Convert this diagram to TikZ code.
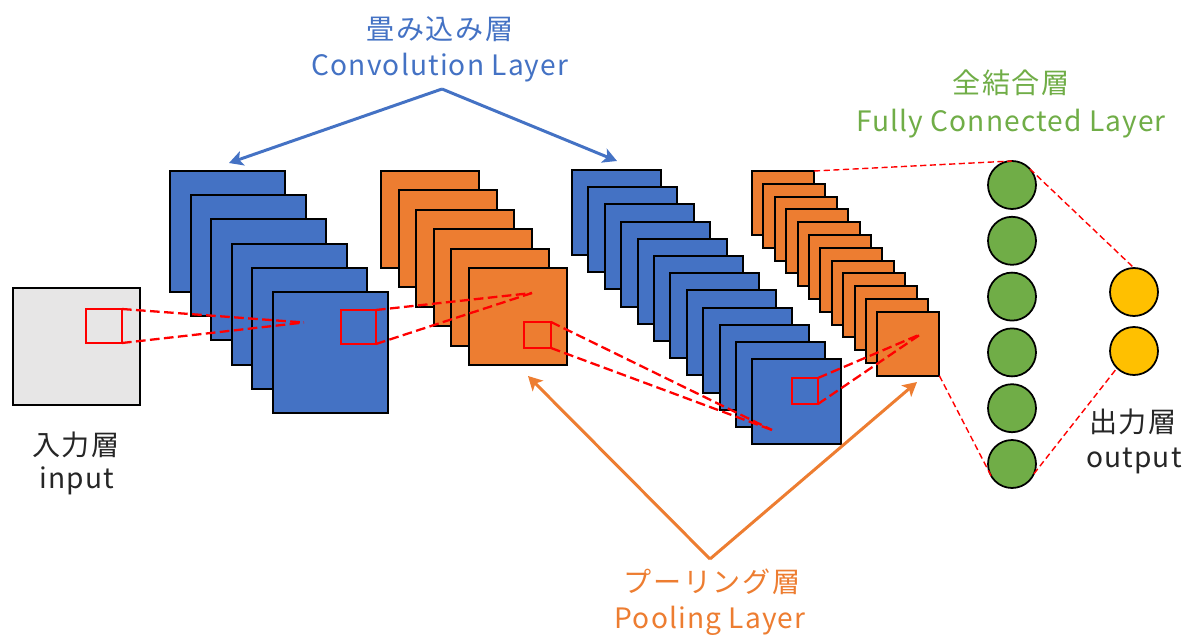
\documentclass[tikz,border=0pt]{standalone}
\usepackage{fontspec}
\setmainfont{Noto Sans CJK JP}
\usetikzlibrary{arrows.meta}

\definecolor{convblue}{HTML}{4472C4}
\definecolor{poolorange}{HTML}{ED7D31}
\definecolor{fcgreen}{HTML}{70AD47}
\definecolor{outgold}{HTML}{FFC000}
\definecolor{inputgray}{HTML}{E7E6E6}
\definecolor{labelgray}{HTML}{262626}

\begin{document}
\begin{tikzpicture}[x=0.02cm,y=-0.02cm,
  fmap/.style={draw=black, line width=1.1pt, inner sep=0pt, outer sep=0pt, anchor=north west},
  field/.style={draw=red, line width=1.1pt, inner sep=0pt, outer sep=0pt, anchor=north west},
  proj/.style={draw=red, line width=1.3pt, dash pattern=on 5.5pt off 2.5pt},
  fclink/.style={draw=red, line width=0.8pt, dash pattern=on 3.5pt off 2pt},
  neuron/.style={circle, draw=black, line width=1pt, minimum size=0.96cm, inner sep=0pt, outer sep=0pt},
  jp/.style={font=\fontsize{16pt}{19pt}\selectfont\addfontfeatures{LetterSpace=6}, inner sep=0pt, anchor=center},
  en/.style={font=\fontsize{16pt}{19pt}\selectfont\addfontfeatures{LetterSpace=4}, inner sep=0pt, anchor=base},
  pointer/.style={line width=1.7pt, -{Stealth[length=8pt, width=8.5pt, inset=2pt]}}
]
\useasboundingbox (0,0) rectangle (1184,635);

% input image
\node[fmap, fill=inputgray, minimum width=2.54cm, minimum height=2.34cm] (inimg) at (13,288) {};

% first convolution stack
\foreach \i in {0,...,5}
  \node[fmap, fill=convblue, minimum width=2.30cm, minimum height=2.42cm] (convA-\i) at ({170+20.6*\i},{171+24.2*\i}) {};

% first pooling stack
\foreach \i in {0,...,5}
  \node[fmap, fill=poolorange, minimum width=1.96cm, minimum height=1.94cm] (poolA-\i) at ({381+17.6*\i},{171+19.4*\i}) {};

% second convolution stack
\foreach \i in {0,...,11}
  \node[fmap, fill=convblue, minimum width=1.78cm, minimum height=1.70cm] (convB-\i) at ({572+16.4*\i},{170+17.2*\i}) {};

% second pooling stack
\foreach \i in {0,...,11}
  \node[fmap, fill=poolorange, minimum width=1.24cm, minimum height=1.28cm] (poolB-\i) at ({752+11.4*\i},{171+12.8*\i}) {};

% receptive fields
\node[field, minimum width=0.72cm, minimum height=0.68cm] (rfIn) at (86,309) {};
\node[field, minimum width=0.70cm, minimum height=0.68cm] (rfA) at (341,310) {};
\node[field, minimum width=0.54cm, minimum height=0.52cm] (rfB) at (524,322) {};
\node[field, minimum width=0.52cm, minimum height=0.52cm] (rfC) at (792,378) {};

% projection targets
\coordinate (pA) at (304,322.5);
\coordinate (pB) at (532,293);
\coordinate (pC) at (772,430);
\coordinate (pD) at (921,334);

\draw[proj] (rfIn.north east) -- (pA);
\draw[proj] (rfIn.south east) -- (pA);
\draw[proj] (rfA.north east) -- (pB);
\draw[proj] (rfA.south east) -- (pB);
\draw[proj] (rfB.north east) -- (pC);
\draw[proj] (rfB.south east) -- (pC);
\draw[proj] (rfC.north east) -- (pD);
\draw[proj] (rfC.south east) -- (pD);

% fully connected and output neurons
\foreach \i in {1,...,6}
  \node[neuron, fill=fcgreen] (fc-\i) at (1012,{185+55.8*(\i-1)}) {};
\node[neuron, fill=outgold] (out-1) at (1134,292) {};
\node[neuron, fill=outgold] (out-2) at (1134,351) {};

\draw[fclink] (poolB-0.north east) -- (fc-1.north);
\draw[fclink] (poolB-11.south east) -- (fc-6.209);
\draw[fclink] (fc-1.42) -- (out-1.north);
\draw[fclink] (fc-6.-24) -- (out-2.225);

% layer pointers
\coordinate (convTop) at (442,89);
\coordinate (convTipL) at (229,163);
\coordinate (convTipR) at (617,161);
\draw[pointer, convblue] (convTop) -- (convTipL);
\draw[pointer, convblue] (convTop) -- (convTipR);

\coordinate (poolBot) at (710,559);
\coordinate (poolTipL) at (528,376);
\coordinate (poolTipR) at (917,382);
\draw[pointer, poolorange] (poolBot) -- (poolTipL);
\draw[pointer, poolorange] (poolBot) -- (poolTipR);

% labels
\node[jp, text=convblue] (convJp) at (440,29) {畳み込み層};
\node[en, text=convblue] (convEn) at (440,76) {Convolution Layer};

\node[jp, text=fcgreen] (fcJp) at (1011,83) {全結合層};
\node[en, text=fcgreen] (fcEn) at (1011,132) {Fully Connected Layer};

\node[jp, text=poolorange] (poolJp) at (712,582) {プーリング層};
\node[en, text=poolorange] (poolEn) at (710,628) {Pooling Layer};

\node[jp, text=labelgray] (inJp) at (76,445) {入力層};
\node[en, text=labelgray] (inEn) at (77,488) {input};

\node[jp, text=labelgray] (outJp) at (1133,422) {出力層};
\node[en, text=labelgray] (outEn) at (1134,467) {output};
\end{tikzpicture}
\end{document}
